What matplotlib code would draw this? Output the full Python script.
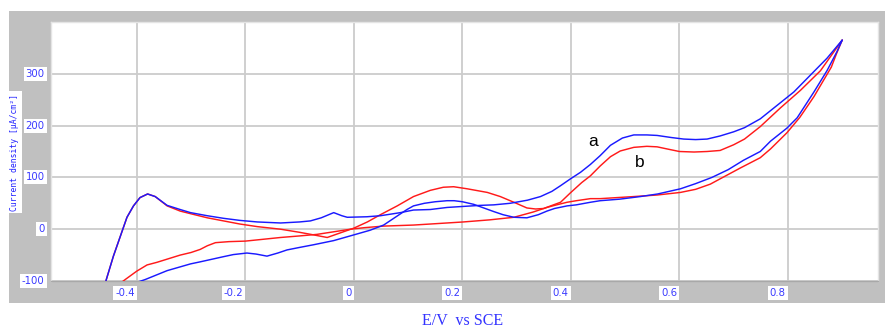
import matplotlib
matplotlib.use("Agg")
import matplotlib.pyplot as plt
from matplotlib.patches import Rectangle
from matplotlib.transforms import offset_copy

# Cyclic voltammograms: potential E (V vs SCE) and current density (uA/cm2)
# Curve a (blue): positive-going sweep, then negative-going sweep
a_fwd_E = [-0.466, -0.456, -0.443, -0.430, -0.418, -0.406, -0.394, -0.380, -0.366, -0.344,
           -0.320, -0.301, -0.270, -0.240, -0.210, -0.178, -0.135, -0.100, -0.080, -0.060,
           -0.037, -0.022, -0.012, 0.024, 0.049, 0.086, 0.110, 0.141, 0.172, 0.202,
           0.233, 0.258, 0.288, 0.320, 0.344, 0.365, 0.381, 0.399, 0.418, 0.436,
           0.454, 0.473, 0.495, 0.516, 0.540, 0.559, 0.585, 0.608, 0.630, 0.651,
           0.675, 0.700, 0.720, 0.749, 0.780, 0.811, 0.841, 0.872, 0.900]
a_fwd_I = [-135, -97, -52, -13, 23, 45, 61, 68, 63, 46,
           38, 32, 26, 21, 17, 14, 12, 14, 16, 22,
           32, 26, 23, 24, 26, 32, 37, 38, 42, 44,
           46, 47, 50, 56, 63, 73, 84, 97, 110, 125,
           142, 162, 176, 182, 182, 181, 177, 174, 173, 174,
           180, 188, 196, 213, 239, 265, 297, 330, 365]
a_rev_E = [0.900, 0.890, 0.872, 0.848, 0.817, 0.798, 0.768, 0.749, 0.718, 0.690,
           0.660, 0.630, 0.602, 0.560, 0.528, 0.490, 0.454, 0.436, 0.410, 0.393,
           0.370, 0.356, 0.340, 0.319, 0.295, 0.275, 0.258, 0.221, 0.200, 0.185,
           0.172, 0.150, 0.130, 0.110, 0.098, 0.075, 0.055, 0.030, 0.000, -0.037,
           -0.074, -0.099, -0.123, -0.140, -0.160, -0.180, -0.197, -0.222, -0.240, -0.283,
           -0.301, -0.344, -0.384, -0.420]
a_rev_I = [365, 342, 306, 265, 215, 195, 170, 150, 133, 115,
           100, 88, 78, 68, 63, 58, 55, 52, 47, 45,
           40, 35, 28, 22, 23, 28, 34, 48, 53, 55,
           55, 53, 50, 45, 38, 22, 8, -2, -11, -22,
           -30, -35, -40, -46, -52, -48, -46, -49, -53, -63,
           -67, -80, -97, -110]

# Curve b (red)
b_fwd_E = [-0.466, -0.456, -0.443, -0.430, -0.418, -0.406, -0.394, -0.380, -0.366, -0.344,
           -0.320, -0.301, -0.270, -0.240, -0.210, -0.178, -0.135, -0.100, -0.074, -0.049,
           -0.030, 0.000, 0.025, 0.049, 0.080, 0.110, 0.141, 0.165, 0.184, 0.209,
           0.246, 0.270, 0.295, 0.319, 0.335, 0.350, 0.368, 0.381, 0.399, 0.420,
           0.436, 0.454, 0.473, 0.491, 0.516, 0.540, 0.559, 0.577, 0.600, 0.627,
           0.651, 0.675, 0.700, 0.720, 0.749, 0.786, 0.823, 0.860, 0.900]
b_fwd_I = [-135, -97, -52, -13, 23, 45, 61, 68, 63, 45,
           35, 30, 22, 16, 10, 5, 0, -6, -11, -16,
           -9, 2, 14, 28, 45, 63, 75, 81, 82, 78,
           71, 63, 52, 41, 39, 40, 47, 52, 70, 90,
           103, 122, 140, 151, 158, 160, 159, 155, 150, 149,
           150, 152, 163, 174, 198, 234, 268, 306, 365]
b_rev_E = [0.900, 0.890, 0.880, 0.848, 0.822, 0.798, 0.768, 0.749, 0.712, 0.680,
           0.657, 0.630, 0.602, 0.559, 0.516, 0.454, 0.436, 0.410, 0.393, 0.370,
           0.356, 0.330, 0.295, 0.250, 0.202, 0.141, 0.110, 0.055, 0.020, -0.006,
           -0.037, -0.068, -0.100, -0.135, -0.172, -0.200, -0.230, -0.255, -0.270, -0.283,
           -0.300, -0.320, -0.363, -0.381, -0.400, -0.421, -0.440]
b_rev_I = [365, 340, 313, 256, 216, 186, 155, 138, 118, 100,
           87, 77, 71, 66, 63, 59, 59, 55, 52, 46,
           42, 33, 23, 18, 14, 10, 8, 6, 3, 0,
           -5, -10, -13, -16, -20, -23, -24, -26, -32, -39,
           -45, -50, -64, -69, -81, -97, -112]

x_ticks = [-0.4, -0.2, 0, 0.2, 0.4, 0.6, 0.8]
x_labels = ["-0.4", "-0.2", "0", "0.2", "0.4", "0.6", "0.8"]
y_ticks = [-100, 0, 100, 200, 300]
y_labels = ["-100", "0", "100", "200", "300"]

W, H = 885, 329
fig = plt.figure(figsize=(W / 100, H / 100), dpi=100, facecolor="white")

# grey instrument-style panel behind the plot
fig.patches.append(Rectangle((9 / W, 1 - 303 / H), 876 / W, 292 / H,
                             transform=fig.transFigure, facecolor="#c0c0c0",
                             edgecolor="none", zorder=-10))

ax = fig.add_axes([51 / W, 1 - 281 / H, 827 / W, 259 / H])
ax.set_zorder(1)
ax.set_facecolor("white")
ax.set_xlim(-0.558, 0.966)
ax.set_ylim(-100, 400)
ax.set_xticks(x_ticks)
ax.set_yticks(y_ticks)
ax.tick_params(length=0, labelbottom=False, labelleft=False)
ax.grid(True, color="#cccccc", lw=1.3)
ax.set_axisbelow(True)
for s in ax.spines.values():
    s.set_color("#e4e4e4")
    s.set_linewidth(1.0)
ax.spines["bottom"].set_color("#a8a8a8")

line_kw = dict(lw=1.05, solid_joinstyle="round", solid_capstyle="round")
ax.plot(b_fwd_E, b_fwd_I, color="#ff1a1a", zorder=3, **line_kw)
ax.plot(b_rev_E, b_rev_I, color="#ff1a1a", zorder=3, **line_kw)
ax.plot(a_fwd_E, a_fwd_I, color="#1a1aff", zorder=4, **line_kw)
ax.plot(a_rev_E, a_rev_I, color="#1a1aff", zorder=4, **line_kw)

box = dict(boxstyle="square,pad=0.2", facecolor="white", edgecolor="none")
tick_col = "#3a3aff"

xtr = offset_copy(ax.get_xaxis_transform(), fig=fig, x=-1.5, y=-8.5, units="points")
for v, t in zip(x_ticks, x_labels):
    ax.text(v, 0, t, transform=xtr, ha="right", va="center", fontsize=7.3,
            color=tick_col, family="DejaVu Sans", bbox=box, clip_on=False)

ytr = offset_copy(ax.get_yaxis_transform(), fig=fig, x=-4.5, y=0, units="points")
for v, t in zip(y_ticks, y_labels):
    ax.text(0, v, t, transform=ytr, ha="right", va="center", fontsize=7.3,
            color=tick_col, family="DejaVu Sans", bbox=box, clip_on=False)

fig.text(15 / W, 1 - 152 / H, "Current density [\u00b5A/cm\u00b2]", rotation=90,
         ha="center", va="center", fontsize=5.8, color="#2020ff",
         family="DejaVu Sans Mono",
         bbox=dict(boxstyle="square,pad=0.25", facecolor="white", edgecolor="none"))

fig.text(463 / W, 1 - 321 / H, "E/V  vs SCE", ha="center", va="center",
         fontsize=11.5, color="#3333ff", family="Liberation Serif")

ax.text(0.441, 169, "a", ha="center", va="center", fontsize=12.5,
        family="Liberation Sans", color="black", zorder=5)
ax.text(0.527, 128, "b", ha="center", va="center", fontsize=12.5,
        family="Liberation Sans", color="black", zorder=5)

fig.savefig("out.png", dpi=100, facecolor="white")
